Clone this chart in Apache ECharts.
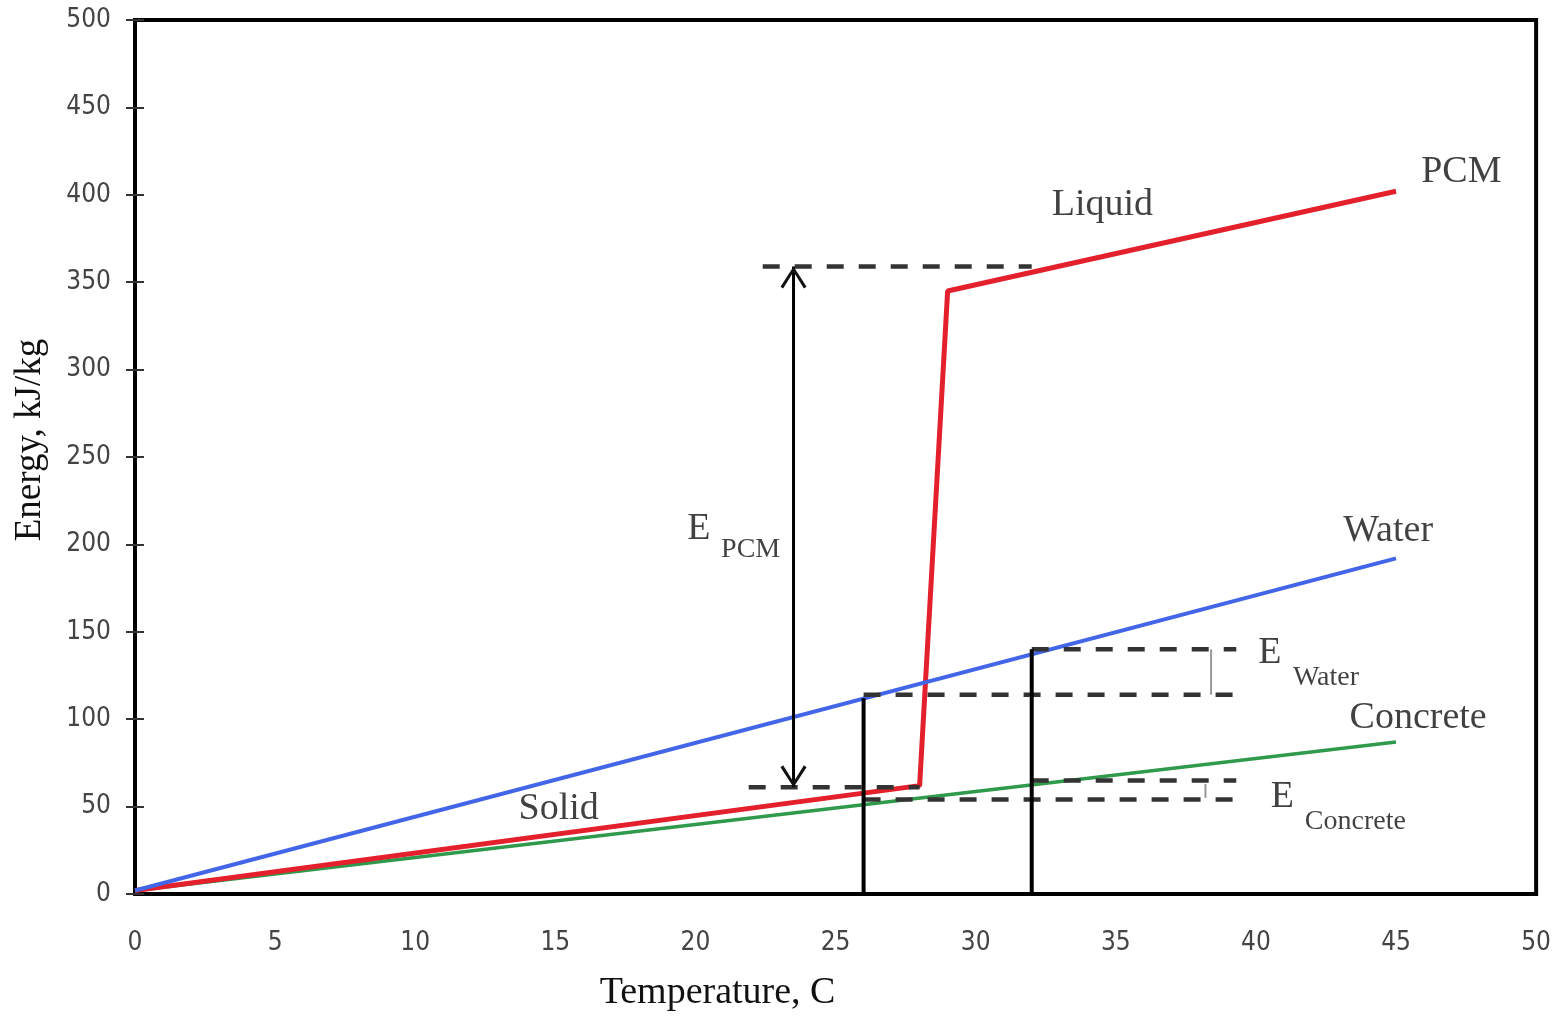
<!DOCTYPE html>
<html>
<head>
<meta charset="utf-8">
<script src="https://cdn.jsdelivr.net/npm/echarts@6/dist/echarts.min.js"></script>
<style>
  html, body { margin: 0; padding: 0; background: #fff; }
  #chart { width: 1554px; height: 1017px; }
</style>
</head>
<body>
<div id="chart"></div>
<script>
// curves (temperature C, energy kJ/kg)
const pcmT = [0, 28, 29, 45]
const pcmE = [2, 62, 345, 402]
const waterT = [0, 45]
const waterE = [2, 192]
const concT = [0, 45]
const concE = [2, 87]

// dashed guide lines [x1, x2, y]
const dashLines = [
  [22.4, 32, 359],
  [21.9, 28, 61],
  [32, 39.3, 140],
  [26, 39.3, 114],
  [32, 39.3, 65],
  [26, 39.3, 54]
]
// solid verticals [x, y1, y2]
const solidLines = [
  [26, 0, 112],
  [32, 0, 140]
]
// small grey brackets [x, y1, y2]
const greyLines = [
  [38.4, 114, 140],
  [38.2, 55, 63]
]
// E_PCM double arrow [x, yBottom, yTop]
const arrowPCM = [23.5, 61, 359]

// text labels
const labelText = ['PCM', 'Liquid', 'Solid', 'Water', 'Concrete', 'E', 'PCM', 'E', 'Water', 'E', 'Concrete']
const labelX = [47.33, 34.52, 15.12, 44.72, 45.79, 20.12, 21.97, 40.5, 42.5, 40.94, 43.55]
const labelY = [413, 394, 48.5, 207.5, 100.5, 209, 197, 138, 123.5, 55.5, 41.5]
const labelBig = [true, true, true, true, true, true, false, true, false, true, false]

const serif = '"Liberation Serif", "Times New Roman", serif'
const chart = echarts.init(document.getElementById('chart'))

const pair = (xs, ys) => xs.map((x, i) => [x, ys[i]])

let series = []
series.push({ type: 'line', data: pair(concT, concE), symbol: 'none', lineStyle: { color: '#2f9a4c', width: 3.5 } })
series.push({ type: 'line', data: pair(pcmT, pcmE), symbol: 'none', lineStyle: { color: '#e4202d', width: 5 } })
series.push({ type: 'line', data: pair(waterT, waterE), symbol: 'none', lineStyle: { color: '#4366e8', width: 4 } })

dashLines.forEach(d => {
  series.push({ type: 'line', data: [[d[0], d[2]], [d[1], d[2]]], symbol: 'none',
    lineStyle: { color: '#333', width: 4.5, type: [17, 15] } })
})
solidLines.forEach(d => {
  series.push({ type: 'line', data: [[d[0], d[1]], [d[0], d[2]]], symbol: 'none',
    lineStyle: { color: '#000', width: 4 } })
})
greyLines.forEach(d => {
  series.push({ type: 'line', data: [[d[0], d[1]], [d[0], d[2]]], symbol: 'none',
    lineStyle: { color: '#999', width: 2 } })
})

const chevron = 'path://M10,0 L20,17 L18,18.5 L10,4.5 L2,18.5 L0,17 Z'
series.push({
  type: 'line',
  lineStyle: { color: '#000', width: 3 },
  itemStyle: { color: '#111' },
  symbol: chevron,
  symbolSize: [26, 22],
  showAllSymbol: true,
  data: [
    { value: [arrowPCM[0], arrowPCM[1]], symbolRotate: 180, symbolOffset: [0, -11] },
    { value: [arrowPCM[0], arrowPCM[2]], symbolRotate: 0, symbolOffset: [0, 11] }
  ]
})

series.push({
  type: 'scatter',
  symbolSize: 1,
  itemStyle: { color: 'rgba(0,0,0,0)' },
  data: labelText.map((t, i) => ({
    name: t,
    value: [labelX[i], labelY[i]],
    label: { fontSize: labelBig[i] ? 38 : 28 }
  })),
  label: {
    show: true,
    position: 'inside',
    formatter: p => p.name,
    color: '#111',
    fontFamily: serif
  }
})

series.forEach(s => { s.silent = true })

const tickFont = '"Liberation Sans Narrow", "DejaVu Sans Condensed", sans-serif'

chart.setOption({
  animation: false,
  grid: { left: 135, right: 17, top: 20, bottom: 119, show: true, borderColor: '#000', borderWidth: 4 },
  xAxis: {
    type: 'value', min: 0, max: 50, interval: 5,
    name: 'Temperature, C', nameLocation: 'middle', nameGap: 80,
    nameTextStyle: { fontFamily: serif, fontSize: 38, color: '#111', padding: [0, 236, 0, 0] },
    axisLine: { show: true, lineStyle: { color: '#000', width: 4 } },
    axisTick: { show: false },
    splitLine: { show: false },
    axisLabel: { margin: 36, fontFamily: tickFont, fontSize: 26, color: '#444' }
  },
  yAxis: [{
    type: 'value', min: 0, max: 500, interval: 50,
    name: 'Energy, kJ/kg', nameLocation: 'middle', nameGap: 86,
    nameTextStyle: { fontFamily: serif, fontSize: 37, color: '#111', padding: [0, 0, 0, 34] },
    axisLine: { show: true, lineStyle: { color: '#000', width: 4 } },
    axisTick: { show: true, length: 9, lineStyle: { color: '#333', width: 2 } },
    splitLine: { show: false },
    axisLabel: { margin: 24, fontFamily: tickFont, fontSize: 26, color: '#444' }
  }, {
    type: 'value', min: 0, max: 500, interval: 50, position: 'left',
    axisLine: { show: false },
    axisTick: { show: true, inside: true, length: 9, lineStyle: { color: '#333', width: 2 } },
    splitLine: { show: false },
    axisLabel: { show: false }
  }],
  series: series
})
</script>
</body>
</html>
